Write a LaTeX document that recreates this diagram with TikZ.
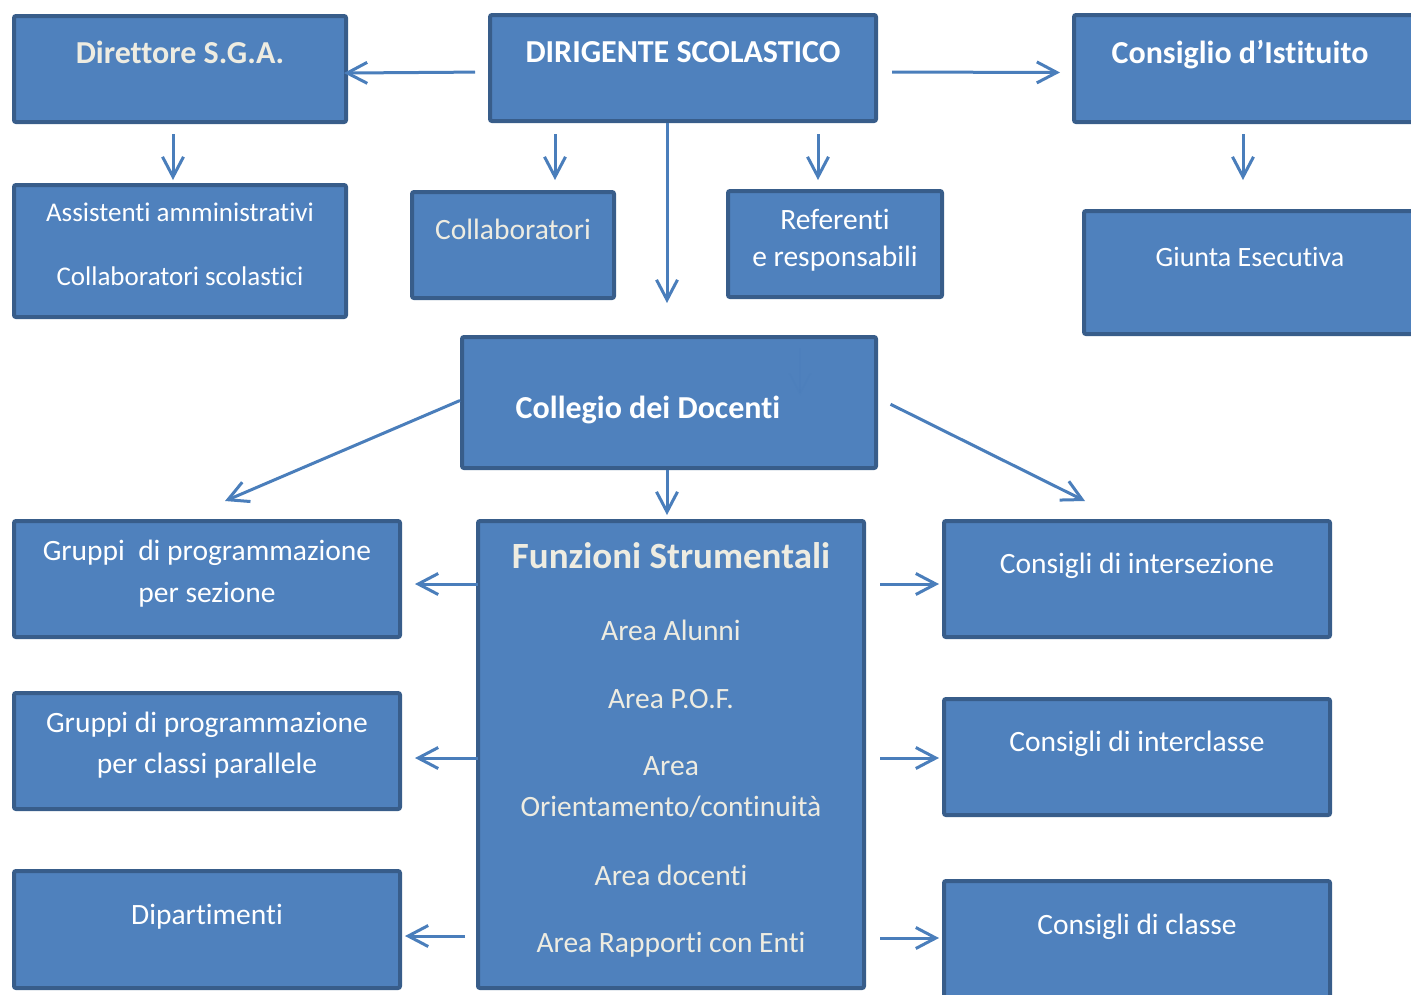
\documentclass[tikz,border=0pt]{standalone}
\usepackage{fontspec}
\setmainfont{Carlito}[Ligatures=NoCommon]
\usetikzlibrary{arrows.meta, positioning}
\definecolor{boxfill}{HTML}{4F81BD}
\definecolor{boxline}{HTML}{385D8A}
\definecolor{arrline}{HTML}{4A7EBB}
\definecolor{cream}{HTML}{EEECE1}
\begin{document}
\begin{tikzpicture}[x=1pt,y=-1pt,
	box/.style={draw=boxline,fill=boxfill,line width=4pt,rounded corners=2pt,inner sep=0pt},
	lbl/.style={text=white,font=\fontsize{29.5}{35}\selectfont,text height=18pt,text depth=0pt,inner sep=0pt},
	lblc/.style={lbl,text=cream},
	hdr/.style={lbl,font=\bfseries\fontsize{32}{38}\selectfont,text height=20pt},
	arr/.style={draw=arrline,line width=3pt,-{Straight Barb[length=20pt,width=21pt]}}]
	\useasboundingbox (0,0) rectangle (1411,994);
	\clip (0,0) rectangle (1411,994);
	
	% boxes
	\node[box,minimum width=332pt,minimum height=106pt] (dsga) at (180,69) {};
	\node[box,minimum width=386pt,minimum height=106pt] (ds) at (683,68) {};
	\node[box,minimum width=349pt,minimum height=107pt] (ci) at (1248.5,68.5) {};
	\node[box,minimum width=332pt,minimum height=132pt] (ass) at (180,251) {};
	\node[box,minimum width=202pt,minimum height=106pt] (coll) at (513,245) {};
	\node[box,minimum width=214pt,minimum height=106pt] (ref) at (835,244) {};
	\node[box,minimum width=339pt,minimum height=123pt] (giunta) at (1253.5,272.5) {};
	\node[box,minimum width=414pt,minimum height=131pt] (cd) at (669,402.5) {};
	\node[box,minimum width=386pt,minimum height=116pt] (gs) at (207,579) {};
	\node[box,minimum width=386pt,minimum height=467pt] (fs) at (671,754.5) {};
	\node[box,minimum width=386pt,minimum height=116pt] (cinter) at (1137,579) {};
	\node[box,minimum width=386pt,minimum height=116pt] (gcp) at (207,751) {};
	\node[box,minimum width=386pt,minimum height=116pt] (cinterc) at (1137,757) {};
	\node[box,minimum width=386pt,minimum height=117pt] (dip) at (207,929.5) {};
	\node[box,minimum width=386pt,minimum height=127pt] (cclasse) at (1137,944.5) {};
	
	% texts
	\node[hdr,text=cream] (dsgaT) at (180,53) {Direttore S.G.A.};
	\node[hdr] (dsT) at (683,52) {DIRIGENTE SCOLASTICO};
	\node[hdr] (ciT) at (1240,53) {Consiglio d’Istituito};
	\node[lbl,font=\fontsize{27}{32}\selectfont,text height=16.5pt] (assT1) at (180,213) {Assistenti amministrativi};
	\node[lbl,font=\fontsize{27}{32}\selectfont,text height=16.5pt] (assT2) at (180,277) {Collaboratori scolastici};
	\node[lblc] (collT) at (513,230) {Collaboratori};
	\node[lbl] (refT1) at (835,220) {Referenti};
	\node[lbl] (refT2) at (835,257) {e responsabili};
	\node[lbl,font=\fontsize{28}{33}\selectfont,text height=17pt] (giuntaT) at (1250,258) {Giunta Esecutiva};
	\node[hdr] (cdT) at (648,408) {Collegio dei Docenti};
	\node[lbl] (gsT1) at (207,551) {Gruppi\ \ di programmazione};
	\node[lbl] (gsT2) at (207,593) {per sezione};
	\node[hdr,text=cream,font=\bfseries\fontsize{37}{44}\selectfont,text height=23pt] (fsT) at (671,557) {Funzioni Strumentali};
	\foreach \y/\t [count=\i] in {631/Area Alunni, 699/Area P.O.F., 766/Area,
		807/{Orientamento/continuità}, 876/Area docenti, 943/Area Rapporti con Enti}
		\node[lblc] (fsT\i) at (671,\y) {\t};
	\node[lbl] (cinterT) at (1137,564) {Consigli di intersezione};
	\node[lbl] (gcpT1) at (207,723) {Gruppi di programmazione};
	\node[lbl] (gcpT2) at (207,764) {per classi parallele};
	\node[lbl] (cintercT) at (1137,742) {Consigli di interclasse};
	\node[lbl] (dipT) at (207,915) {Dipartimenti};
	\node[lbl] (cclasseT) at (1137,925) {Consigli di classe};
	
	% connectors
	\draw[arr,shorten <=13pt,shorten >=-4pt] ([yshift=-4pt]ds.west) -- ([yshift=-4pt]dsga.east);
	\draw[arr,shorten <=14pt,shorten >=12pt] ([yshift=-4pt]ds.east) -- ([yshift=-4pt]ci.west);
	\draw[arr,shorten <=10pt,shorten >=3pt] ([xshift=-7pt]dsga.south) -- ([xshift=-7pt]ass.north);
	\draw[arr,shorten <=11pt,shorten >=10pt] ([xshift=42pt]coll.north |- ds.south) -- ([xshift=42pt]coll.north);
	\draw[arr,shorten <=11pt,shorten >=9pt] ([xshift=-17pt]ref.north |- ds.south) -- ([xshift=-17pt]ref.north);
	\draw[arr,shorten >=32pt] ([xshift=-16pt]ds.south) -- ([xshift=-16pt]ds.south |- cd.north);
	\draw[arr,shorten <=10pt,shorten >=29pt] ([xshift=-10.5pt]giunta.north |- ci.south) -- ([xshift=-10.5pt]giunta.north);
	\draw[arr] ([yshift=2pt]cd.west) -- ([xshift=18pt,yshift=18pt]gs.north);
	\draw[arr,shorten <=14pt] ([yshift=4.5pt]cd.east) -- ([xshift=-52pt,yshift=18pt]cinter.north);
	\draw[arr,shorten >=4pt] ([xshift=-2pt]cd.south) -- ([xshift=-2pt]cd.south |- fs.north);
	\draw[arr,shorten <=-2pt,shorten >=13pt] ([yshift=-5pt]gs.east -| fs.west) -- ([yshift=-5pt]gs.east);
	\draw[arr,shorten <=-2pt,shorten >=13pt] ([yshift=-7pt]gcp.east -| fs.west) -- ([yshift=-7pt]gcp.east);
	\draw[arr,shorten <=11pt,shorten >=3pt] ([yshift=-6.5pt]dip.east -| fs.west) -- ([yshift=-6.5pt]dip.east);
	\draw[arr,shorten <=14pt,shorten >=3pt] ([yshift=-5pt]cinter.west -| fs.east) -- ([yshift=-5pt]cinter.west);
	\draw[arr,shorten <=14pt,shorten >=3pt] ([yshift=-1pt]cinterc.west -| fs.east) -- ([yshift=-1pt]cinterc.west);
	\draw[arr,shorten <=14pt,shorten >=3pt] ([yshift=6.5pt]cclasse.west -| fs.east) -- ([yshift=6.5pt]cclasse.west);
	% faint arrow inside the Collegio box
	\coordinate (ghostA) at (800,348);
	\coordinate (ghostB) at (800,395);
	\draw[arr,line width=1.5pt,draw opacity=.35] (ghostA) -- (ghostB);
\end{tikzpicture}
\end{document}
